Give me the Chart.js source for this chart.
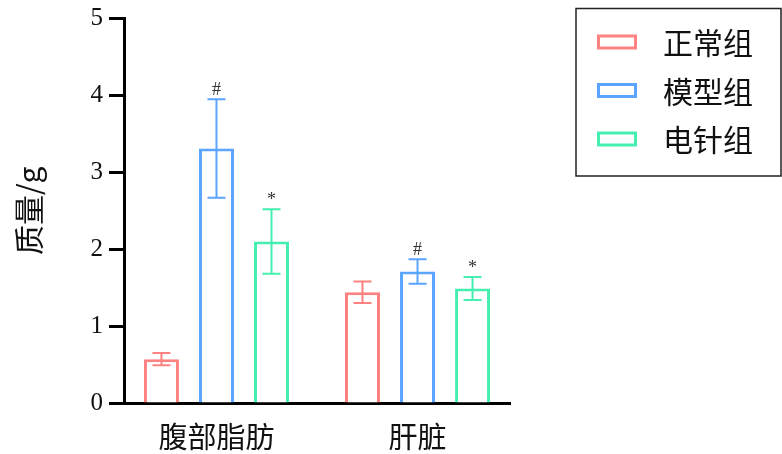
<!DOCTYPE html>
<html>
<head>
<meta charset="utf-8">
<script src="https://cdn.jsdelivr.net/npm/chart.js@4.4.0/dist/chart.umd.min.js"></script>
<style>
  html, body { margin: 0; padding: 0; background: #fff; }
</style>
</head>
<body>
<canvas id="chart" width="782" height="454"></canvas>
<script>
// --- datos: peso (g) por grupo, media y error ---
const grupos = ['腹部脂肪', '肝脏'];
const nombres = ['正常组', '模型组', '电针组'];
const normalMedia = [0.57, 1.44];
const normalErr = [0.08, 0.14];
const modeloMedia = [3.31, 1.71];
const modeloErr = [0.64, 0.16];
const eaMedia = [2.10, 1.49];
const eaErr = [0.42, 0.15];
const modeloMarcas = ['#', '#'];
const eaMarcas = ['*', '*'];
const colores = ['#ff8282', '#5ba4ff', '#44efb0'];

const CJK = '"Noto Sans CJK SC", "Noto Sans", sans-serif';
const SERIF = '"Liberation Serif", "DejaVu Serif", serif';

function serie(label, medias, errores, marcas, color) {
  return {
    label,
    data: medias.map((v, i) => ({ x: i, y: v })),
    errores,
    marcas,
    borderColor: color,
    backgroundColor: '#fff',
    borderWidth: 3,
    borderSkipped: 'bottom'
  };
}

// barras de error + marcas de significancia
const barrasError = {
  id: 'barrasError',
  afterDatasetsDraw(chart) {
    const ctx = chart.ctx;
    const y = chart.scales.y;
    chart.data.datasets.forEach((ds, di) => {
      chart.getDatasetMeta(di).data.forEach((bar, i) => {
        const v = ds.data[i].y, e = ds.errores[i];
        const arriba = y.getPixelForValue(v + e);
        const abajo = y.getPixelForValue(v - e);
        ctx.save();
        ctx.strokeStyle = ds.borderColor;
        ctx.lineWidth = 2;
        ctx.beginPath();
        ctx.moveTo(bar.x, arriba); ctx.lineTo(bar.x, abajo);
        ctx.moveTo(bar.x - 9, arriba); ctx.lineTo(bar.x + 9, arriba);
        ctx.moveTo(bar.x - 9, abajo); ctx.lineTo(bar.x + 9, abajo);
        ctx.stroke();
        if (ds.marcas && ds.marcas[i]) {
          ctx.fillStyle = '#333';
          ctx.font = '18px ' + SERIF;
          ctx.textAlign = 'center';
          ctx.textBaseline = 'alphabetic';
          ctx.fillText(ds.marcas[i], bar.x, arriba - 4);
        }
        ctx.restore();
      });
    });
  }
};

// leyenda con marco a la derecha
const leyendaCaja = {
  id: 'leyendaCaja',
  afterDraw(chart) {
    const ctx = chart.ctx;
    ctx.save();
    ctx.strokeStyle = '#222';
    ctx.lineWidth = 1.5;
    ctx.strokeRect(576, 8.5, 205, 167.5);
    chart.data.datasets.forEach((ds, i) => {
      const cy = 42 + i * 48.5;
      ctx.strokeStyle = ds.borderColor;
      ctx.lineWidth = 3;
      ctx.strokeRect(598.5, cy - 6, 37, 12);
      ctx.fillStyle = '#111';
      ctx.font = '30px ' + CJK;
      ctx.textAlign = 'left';
      ctx.textBaseline = 'middle';
      ctx.fillText(ds.label, 663, cy + 1);
    });
    ctx.restore();
  }
};

const ctx = document.getElementById('chart').getContext('2d');
const chart = new Chart(ctx, {
  type: 'bar',
  data: {
    datasets: [
      serie(nombres[0], normalMedia, normalErr, null, colores[0]),
      serie(nombres[1], modeloMedia, modeloErr, modeloMarcas, colores[1]),
      serie(nombres[2], eaMedia, eaErr, eaMarcas, colores[2])
    ]
  },
  options: {
    responsive: false,
    animation: false,
    categoryPercentage: 0.821,
    barPercentage: 0.636,
    layout: { padding: { left: 0, right: 272, top: 17.5, bottom: 0 } },
    plugins: { legend: { display: false }, tooltip: { enabled: false } },
    scales: {
      x: {
        type: 'linear',
        min: -0.46,
        max: 1.46,
        offset: false,
        bounds: 'data',
        afterBuildTicks: (s) => { s.ticks = grupos.map((_, i) => ({ value: i })); },
        afterFit: (s) => { s.height = 51; },
        ticks: {
          callback: (v) => grupos[v],
          color: '#111',
          font: { family: CJK, size: 29 },
          padding: 9,
          maxRotation: 0
        },
        grid: { display: false, offset: false },
        border: { color: '#000', width: 3 }
      },
      y: {
        min: 0,
        max: 5,
        afterFit: (s) => { s.width = 124; },
        ticks: {
          stepSize: 1,
          color: '#111',
          font: { family: SERIF, size: 25, lineHeight: 1 },
          padding: 6
        },
        grid: {
          drawOnChartArea: false,
          drawTicks: true,
          tickLength: 15,
          tickWidth: 3,
          tickColor: '#000'
        },
        border: { color: '#000', width: 3 },
        title: {
          display: true,
          text: '质量/g',
          color: '#111',
          font: { family: CJK, size: 30 },
          padding: { top: 11, bottom: 0 }
        }
      }
    }
  },
  plugins: [barrasError, leyendaCaja]
});
</script>
</body>
</html>
